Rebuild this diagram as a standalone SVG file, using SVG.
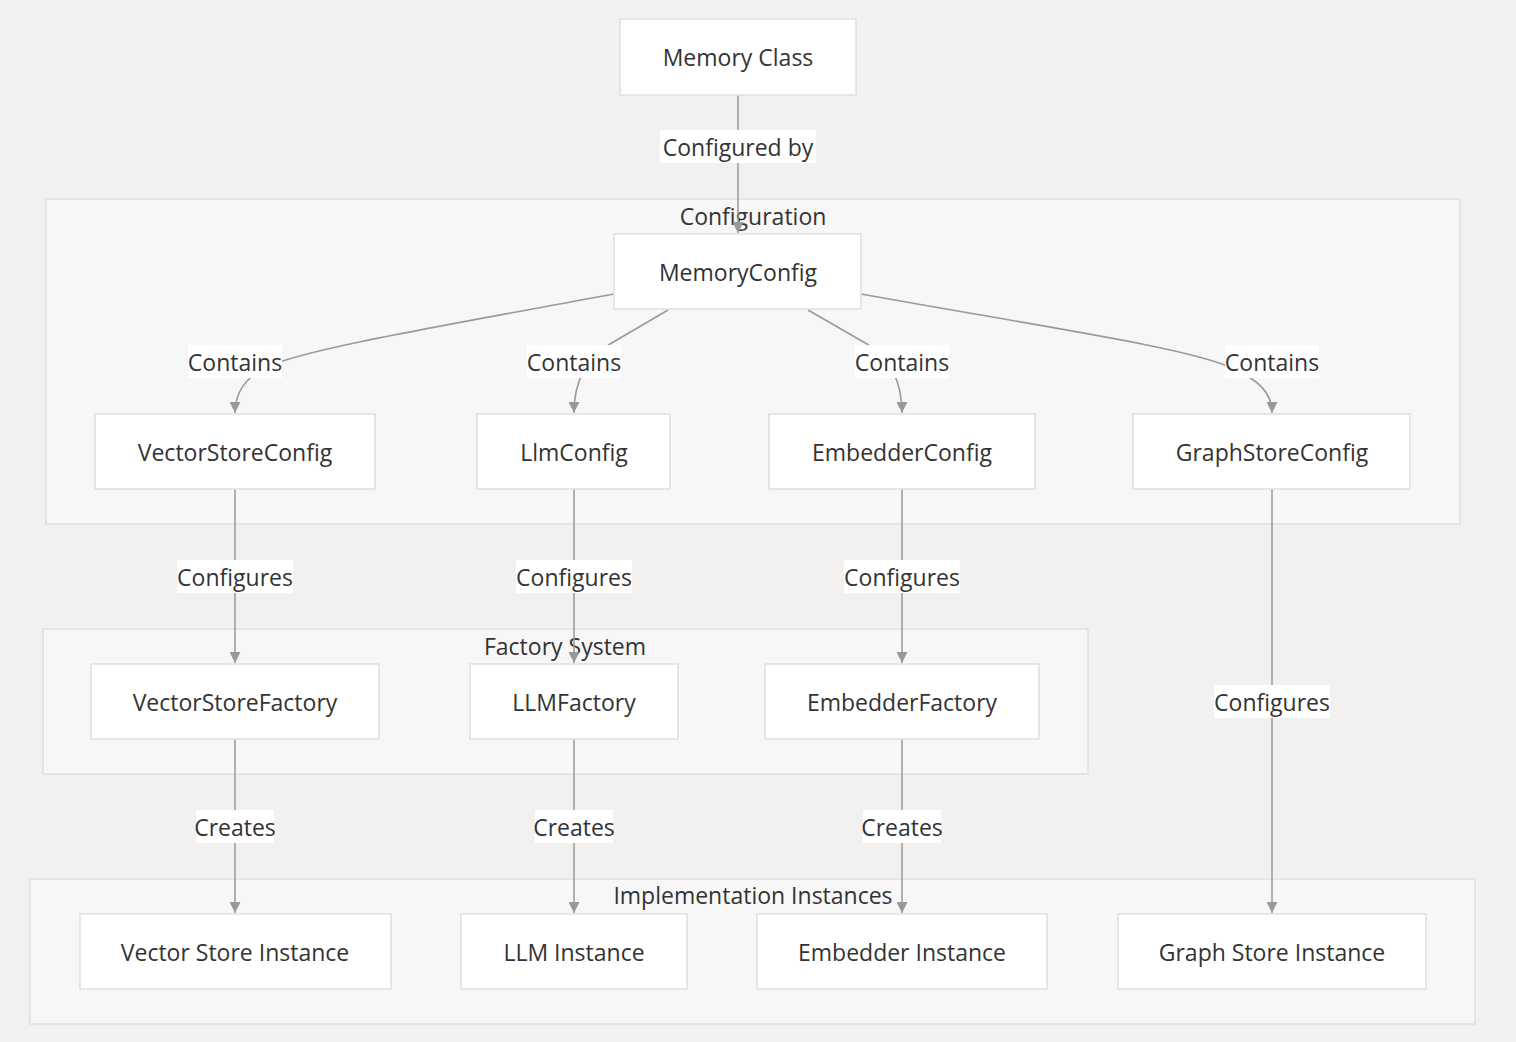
<svg xmlns="http://www.w3.org/2000/svg" width="1516" height="1042" viewBox="0 0 1516 1042">
<defs>
<marker id="arr" viewBox="0 0 10 10" refX="10" refY="5" markerWidth="11" markerHeight="11" markerUnits="userSpaceOnUse" orient="auto">
<path d="M0,0 L10,5 L0,10 z" fill="#999"/>
</marker>
<style>
.bg{fill:#f2f1f0}
.cl{fill:#f7f7f7;stroke:#e0e0e0;stroke-width:1.5}
.nd{fill:#ffffff;stroke:#e0e0e0;stroke-width:1.5}
.t{font-family:"Open Sans","Noto Sans","DejaVu Sans",sans-serif;font-size:23px;fill:#333;text-anchor:middle;dominant-baseline:central}
.e{fill:none;stroke:#999;stroke-width:1.5;marker-end:url(#arr)}
.lb{fill:#ffffff}
</style>
</defs>
<rect class="bg" x="0" y="0" width="1516" height="1042"/>
<g id="clusters">
<g id="cluster-config"><rect class="cl" x="46" y="199" width="1414" height="325"/><text class="t" x="753" y="216">Configuration</text></g>
<g id="cluster-factory"><rect class="cl" x="43" y="629" width="1045" height="145"/><text class="t" x="565" y="646">Factory System</text></g>
<g id="cluster-impl"><rect class="cl" x="30" y="879" width="1445" height="145"/><text class="t" x="753" y="895">Implementation Instances</text></g>
</g>
<g id="edges">
<path class="e" d="M738,95 L738,233"/>
<path class="e" d="M614,294 C430,328 300,350 265,368 C245,378 235,392 235,413"/>
<path class="e" d="M668,310 L610,344 Q574,366 574,413"/>
<path class="e" d="M808,310 L867,344 Q902,366 902,413"/>
<path class="e" d="M861,294 C1050,328 1190,348 1232,368 C1258,380 1272,392 1272,413"/>
<path class="e" d="M235,489 L235,663"/>
<path class="e" d="M574,489 L574,663"/>
<path class="e" d="M902,489 L902,663"/>
<path class="e" d="M1272,489 L1272,913"/>
<path class="e" d="M235,739 L235,913"/>
<path class="e" d="M574,739 L574,913"/>
<path class="e" d="M902,739 L902,913"/>
</g>
<g id="edge-labels">
<rect class="lb" x="660" y="130" width="156" height="33"/><text class="t" x="738" y="147">Configured by</text>
<rect class="lb" x="188" y="345" width="94" height="33"/><text class="t" x="235" y="362">Contains</text>
<rect class="lb" x="527" y="345" width="94" height="33"/><text class="t" x="574" y="362">Contains</text>
<rect class="lb" x="855" y="345" width="94" height="33"/><text class="t" x="902" y="362">Contains</text>
<rect class="lb" x="1225" y="345" width="94" height="33"/><text class="t" x="1272" y="362">Contains</text>
<rect class="lb" x="177" y="560" width="116" height="33"/><text class="t" x="235" y="577">Configures</text>
<rect class="lb" x="516" y="560" width="116" height="33"/><text class="t" x="574" y="577">Configures</text>
<rect class="lb" x="844" y="560" width="116" height="33"/><text class="t" x="902" y="577">Configures</text>
<rect class="lb" x="1214" y="685" width="116" height="33"/><text class="t" x="1272" y="702">Configures</text>
<rect class="lb" x="196" y="810" width="78" height="33"/><text class="t" x="235" y="827">Creates</text>
<rect class="lb" x="535" y="810" width="78" height="33"/><text class="t" x="574" y="827">Creates</text>
<rect class="lb" x="863" y="810" width="78" height="33"/><text class="t" x="902" y="827">Creates</text>
</g>
<g id="memory-class"><rect class="nd" x="620" y="19" width="236" height="76"/><text class="t" x="738" y="57">Memory Class</text></g>
<g id="memory-config"><rect class="nd" x="614" y="234" width="247" height="75"/><text class="t" x="738" y="272">MemoryConfig</text></g>
<g id="vector-store-config"><rect class="nd" x="95" y="414" width="280" height="75"/><text class="t" x="235" y="452">VectorStoreConfig</text></g>
<g id="llm-config"><rect class="nd" x="477" y="414" width="193" height="75"/><text class="t" x="574" y="452">LlmConfig</text></g>
<g id="embedder-config"><rect class="nd" x="769" y="414" width="266" height="75"/><text class="t" x="902" y="452">EmbedderConfig</text></g>
<g id="graph-store-config"><rect class="nd" x="1133" y="414" width="277" height="75"/><text class="t" x="1272" y="452">GraphStoreConfig</text></g>
<g id="vector-store-factory"><rect class="nd" x="91" y="664" width="288" height="75"/><text class="t" x="235" y="702">VectorStoreFactory</text></g>
<g id="llm-factory"><rect class="nd" x="470" y="664" width="208" height="75"/><text class="t" x="574" y="702">LLMFactory</text></g>
<g id="embedder-factory"><rect class="nd" x="765" y="664" width="274" height="75"/><text class="t" x="902" y="702">EmbedderFactory</text></g>
<g id="vector-store-instance"><rect class="nd" x="80" y="914" width="311" height="75"/><text class="t" x="235" y="952">Vector Store Instance</text></g>
<g id="llm-instance"><rect class="nd" x="461" y="914" width="226" height="75"/><text class="t" x="574" y="952">LLM Instance</text></g>
<g id="embedder-instance"><rect class="nd" x="757" y="914" width="290" height="75"/><text class="t" x="902" y="952">Embedder Instance</text></g>
<g id="graph-store-instance"><rect class="nd" x="1118" y="914" width="308" height="75"/><text class="t" x="1272" y="952">Graph Store Instance</text></g>
</svg>
